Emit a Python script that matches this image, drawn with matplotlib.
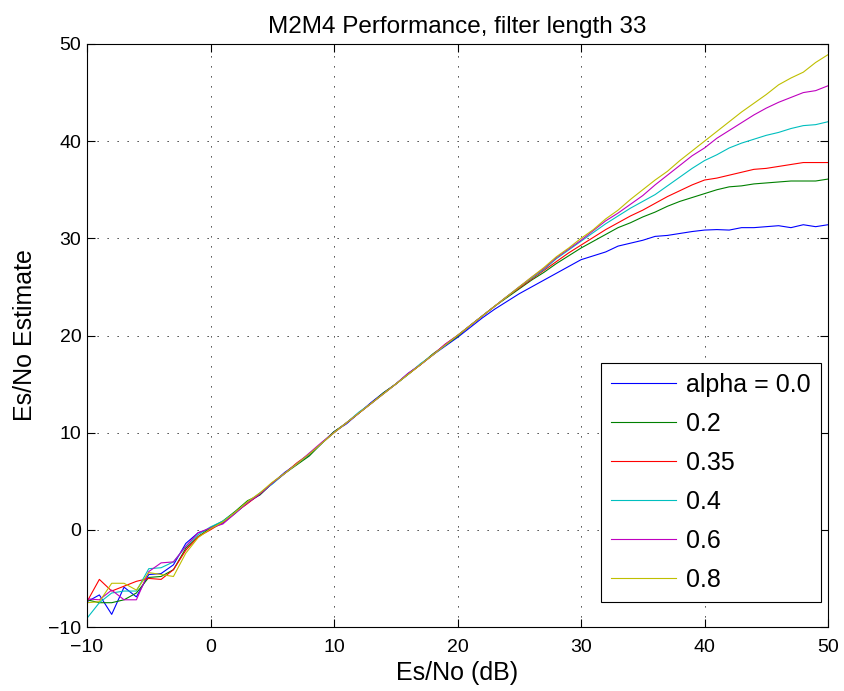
import matplotlib
matplotlib.use("Agg")
import matplotlib.pyplot as plt
import numpy as np

plt.rcParams['font.family'] = ['Liberation Sans', 'DejaVu Sans']

snr_db = np.arange(-10, 51)

est_a00 = [-7.4, -6.7, -8.7, -5.9, -6.9, -4.6, -4.5, -3.6, -1.4, -0.3, 0.1,
           0.7, 1.7, 2.8, 3.6, 4.8, 5.9, 6.8, 7.7, 8.9, 10.1,
           10.9, 12.0, 13.1, 14.1, 15.0, 16.1, 17.0, 18.0, 18.9, 19.8,
           20.8, 21.8, 22.7, 23.5, 24.3, 25.0, 25.7, 26.4, 27.1, 27.8,
           28.2, 28.6, 29.2, 29.5, 29.8, 30.2, 30.3, 30.5, 30.7, 30.85,
           30.9, 30.85, 31.1, 31.1, 31.2, 31.3, 31.1, 31.4, 31.2, 31.4]
est_a02 = [-7.2, -7.5, -7.5, -7.2, -6.5, -4.9, -4.8, -4.1, -1.9, -0.7, 0.2,
           0.9, 1.9, 3.0, 3.6, 4.8, 5.8, 6.7, 7.6, 8.9, 10.1,
           11.0, 12.0, 13.0, 14.1, 15.0, 16.0, 17.0, 18.1, 19.0, 19.9,
           21.0, 22.0, 23.0, 23.9, 24.8, 25.7, 26.5, 27.4, 28.2, 29.0,
           29.7, 30.4, 31.1, 31.6, 32.2, 32.7, 33.3, 33.8, 34.2, 34.6,
           35.0, 35.3, 35.4, 35.6, 35.7, 35.8, 35.9, 35.9, 35.9, 36.1]
est_a035 = [-7.4, -5.1, -6.3, -5.8, -5.3, -5.0, -5.1, -4.1, -2.1, -0.7, 0.0,
            0.8, 1.8, 2.7, 3.7, 4.8, 5.8, 6.9, 7.8, 8.9, 10.0,
            11.0, 12.0, 13.0, 14.0, 15.0, 16.0, 17.0, 18.0, 19.1, 20.0,
            21.0, 22.0, 23.0, 24.0, 24.9, 25.8, 26.7, 27.6, 28.5, 29.3,
            30.1, 30.9, 31.6, 32.3, 32.9, 33.6, 34.3, 34.9, 35.5, 36.0,
            36.2, 36.5, 36.8, 37.1, 37.2, 37.4, 37.6, 37.8, 37.8, 37.8]
est_a04 = [-9.1, -7.5, -6.5, -6.3, -6.3, -4.0, -3.9, -3.3, -1.7, -0.5, 0.3,
           0.9, 1.8, 2.8, 3.8, 4.7, 5.8, 6.8, 7.8, 8.9, 10.0,
           11.0, 12.1, 13.0, 14.0, 15.0, 16.0, 17.1, 18.0, 19.0, 20.0,
           21.0, 22.0, 23.0, 24.0, 25.0, 25.9, 26.8, 27.9, 28.8, 29.7,
           30.6, 31.5, 32.3, 33.1, 33.8, 34.5, 35.4, 36.3, 37.2, 38.0,
           38.6, 39.3, 39.8, 40.2, 40.6, 40.9, 41.3, 41.6, 41.7, 42.0]
est_a06 = [-7.1, -7.2, -6.2, -7.2, -7.2, -4.3, -3.4, -3.3, -1.7, -0.3, 0.2,
           0.6, 1.7, 2.8, 3.7, 4.8, 5.8, 6.8, 7.9, 9.0, 10.0,
           11.0, 12.0, 13.0, 14.0, 15.0, 16.1, 17.0, 18.0, 19.1, 20.0,
           21.0, 22.0, 23.0, 24.0, 25.0, 26.0, 26.9, 28.0, 28.9, 29.8,
           30.8, 31.8, 32.6, 33.5, 34.4, 35.5, 36.5, 37.5, 38.5, 39.3,
           40.3, 41.1, 41.9, 42.7, 43.4, 44.0, 44.5, 45.0, 45.2, 45.7]
est_a08 = [-7.5, -7.4, -5.5, -5.5, -6.2, -4.4, -4.6, -4.8, -2.4, -0.8, 0.1,
           0.8, 1.8, 2.9, 3.8, 4.9, 5.8, 6.8, 7.8, 8.9, 10.0,
           11.0, 12.0, 13.0, 14.0, 15.0, 16.0, 17.0, 18.0, 19.0, 20.0,
           21.0, 22.0, 23.0, 24.0, 25.0, 26.0, 27.0, 28.1, 29.0, 30.0,
           30.9, 32.0, 32.9, 34.0, 35.0, 36.0, 36.9, 38.0, 39.0, 40.0,
           41.0, 42.0, 43.0, 43.9, 44.8, 45.8, 46.5, 47.1, 48.1, 48.9]

labels = ['alpha = 0.0', '0.2', '0.35', '0.4', '0.6', '0.8']
series = [est_a00, est_a02, est_a035, est_a04, est_a06, est_a08]
colors = [(0, 0, 1), (0, 0.5, 0), (1, 0, 0), (0, 0.75, 0.75), (0.75, 0, 0.75), (0.75, 0.75, 0)]

x_ticks = [-10, 0, 10, 20, 30, 40, 50]
y_ticks = [-10, 0, 10, 20, 30, 40, 50]

fig = plt.figure(figsize=(8.44, 6.91), dpi=100)
ax = fig.add_axes([87/844, 1 - 627/691, (828-87)/844, (627-44)/691])

for vals, lab, col in zip(series, labels, colors):
    ax.plot(snr_db, vals, color=col, lw=0.8, label=lab)

ax.set_xlim(-10, 50)
ax.set_ylim(-10, 50)
ax.set_xticks(x_ticks)
ax.set_yticks(y_ticks)
ax.tick_params(direction='in', length=6, width=0.8, top=True, right=True,
               labelsize=14)
ax.tick_params(axis='x', pad=9)
ax.tick_params(axis='y', pad=4)
for sp in ax.spines.values():
    sp.set_linewidth(0.8)
ax.grid(True, color='black', linestyle=(0, (1.5, 10.5)), linewidth=0.6)

ax.set_title('M2M4 Performance, filter length 33', fontsize=17.5, pad=8)
ax.set_xlabel('Es/No (dB)', fontsize=18, labelpad=3)
ax.set_ylabel('Es/No Estimate', fontsize=18, labelpad=8)

leg = ax.legend(loc='lower right', fontsize=18, fancybox=False, framealpha=1,
                edgecolor='black', handlelength=2.6, handletextpad=0.4,
                labelspacing=0.6, borderpad=0.4, borderaxespad=0.0,
                bbox_to_anchor=((821-87)/741, (627-602)/583))
leg.get_frame().set_linewidth(0.8)

fig.savefig('out.png', dpi=100)
